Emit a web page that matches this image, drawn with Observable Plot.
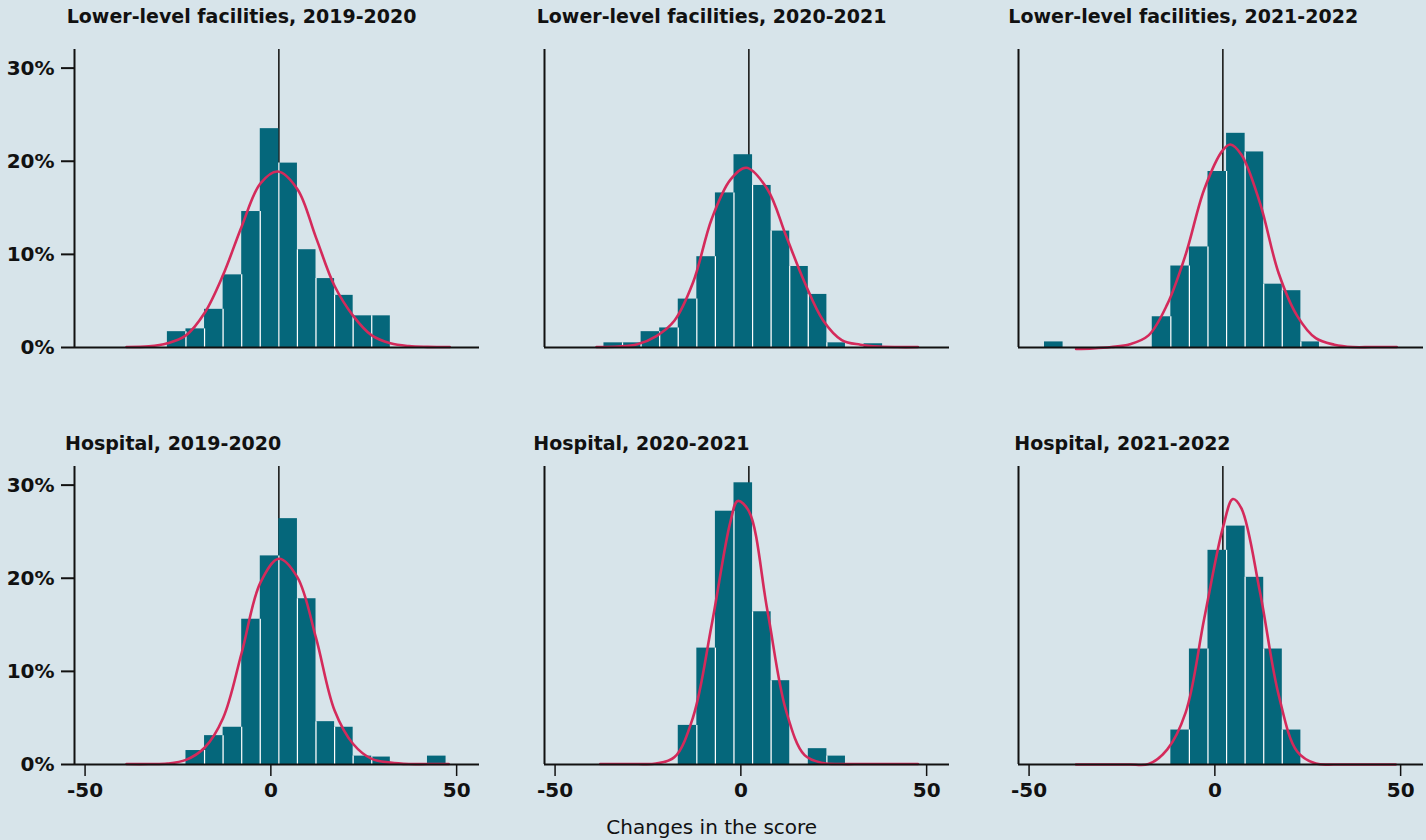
<!DOCTYPE html>
<html>
<head>
<meta charset="utf-8">
<script src="https://cdn.jsdelivr.net/npm/d3@7"></script>
<script src="https://cdn.jsdelivr.net/npm/@observablehq/plot@0.6"></script>
<style>
  html, body { margin: 0; padding: 0; background: #d7e4ea; }
  #root { position: relative; width: 1426px; height: 840px; background: #d7e4ea; overflow: hidden; font-family: "DejaVu Sans", sans-serif; color: #111; }
  .panel { position: absolute; }
  .title { position: absolute; font: bold 19px/19px "DejaVu Sans", sans-serif; color: #111; white-space: nowrap; }
  .xlabel { position: absolute; left: 0; width: 1426px; text-align: center; font: 20px/20px "DejaVu Sans", sans-serif; color: #111; }
</style>
</head>
<body>
<div id="root"></div>
<script>
// ---------- data ----------
const titles = [
  "Lower-level facilities, 2019-2020",
  "Lower-level facilities, 2020-2021",
  "Lower-level facilities, 2021-2022",
  "Hospital, 2019-2020",
  "Hospital, 2020-2021",
  "Hospital, 2021-2022"
];
const binWidth = 5;
const xTicks = [-50, 0, 50];
const yTicks = [0, 10, 20, 30];
const xLabel = "Changes in the score";

// Lower-level facilities, 2019-2020
const llBins1920 = [-30, -25, -20, -15, -10, -5, 0, 5, 10, 15, 20, 25];
const llPct1920  = [1.7, 2.0, 4.1, 7.8, 14.6, 23.5, 19.8, 10.5, 7.4, 5.6, 3.4, 3.4];
const llCurveX1920 = [-41, -35, -30, -25, -20, -15, -10, -5, -0.3, 5, 10, 15, 20, 25, 30, 35, 40, 46];
const llCurveY1920 = [0.05, 0.12, 0.45, 1.3, 3.7, 7.8, 13.0, 17.6, 18.9, 17.0, 11.8, 6.6, 3.4, 1.3, 0.45, 0.15, 0.07, 0.05];

// Lower-level facilities, 2020-2021
const llBins2021 = [-39, -34, -29, -24, -19, -14, -9, -4, 1, 6, 11, 16, 21, 31];
const llPct2021  = [0.5, 0.5, 1.7, 2.1, 5.2, 9.75, 16.6, 20.7, 17.4, 12.5, 8.7, 5.7, 0.5, 0.4];
const llCurveX2021 = [-41, -35, -30, -25, -20, -15, -10, -5, -0.7, 5, 10, 15, 20, 25, 30, 35, 40, 45.5];
const llCurveY2021 = [0.05, 0.1, 0.35, 1.2, 2.9, 7.0, 13.8, 18.0, 19.3, 17.0, 12.0, 7.0, 2.9, 0.8, 0.3, 0.1, 0.05, 0.05];

// Lower-level facilities, 2021-2022
const llBins2122 = [-48, -19, -14, -9, -4, 1, 6, 11, 16, 21];
const llPct2122  = [0.6, 3.3, 8.75, 10.8, 18.9, 23.0, 21.0, 6.8, 6.1, 0.6];
const llCurveX2122 = [-39.5, -35, -30, -25, -20, -15, -10, -5, 0, 2, 5, 10, 15, 20, 25, 30, 35, 40, 46.8];
const llCurveY2122 = [-0.15, -0.1, 0.05, 0.35, 1.3, 4.6, 10.0, 17.0, 21.2, 21.8, 20.7, 15.5, 8.0, 3.4, 1.0, 0.3, 0.05, 0.05, 0.05];

// Hospital, 2019-2020
const hBins1920 = [-25, -20, -15, -10, -5, 0, 5, 10, 15, 20, 25, 40];
const hPct1920  = [1.5, 3.1, 4.0, 15.6, 22.4, 26.4, 17.8, 4.6, 4.0, 0.9, 0.8, 0.9];
const hCurveX1920 = [-41, -35, -30, -25, -20, -15, -10, -5, 0, 5, 10, 15, 20, 25, 30, 35, 40, 45.7];
const hCurveY1920 = [0.05, 0.05, 0.1, 0.5, 1.8, 5.0, 12.0, 19.5, 22.1, 20.1, 13.6, 5.8, 2.2, 0.6, 0.2, 0.05, 0.05, 0.05];

// Hospital, 2020-2021
const hBins2021 = [-19, -14, -9, -4, 1, 6, 16, 21];
const hPct2021  = [4.2, 12.5, 27.2, 30.25, 16.4, 9.0, 1.7, 0.9];
const hCurveX2021 = [-40, -35, -30, -25, -20, -15, -10, -5, -3, 0, 5, 10, 15, 20, 25, 30, 35, 40, 45.5];
const hCurveY2021 = [0.05, 0.05, 0.05, 0.1, 0.8, 5.1, 15.0, 26.0, 28.3, 27.2, 16.5, 5.8, 1.0, 0.15, 0.05, 0.05, 0.05, 0.05, 0.05];

// Hospital, 2021-2022
const hBins2122 = [-14, -9, -4, 1, 6, 11, 16];
const hPct2122  = [3.7, 12.4, 23.0, 25.6, 20.1, 12.4, 3.7];
const hCurveX2122 = [-39.5, -35, -30, -25, -20, -15, -10, -5, 0, 2.7, 5, 10, 15, 20, 25, 30, 35, 40, 46.5];
const hCurveY2122 = [0, 0, 0, 0, 0.05, 1.6, 5.6, 15.7, 25.4, 28.5, 27.5, 18.5, 7.5, 1.4, 0.1, 0, 0, 0, 0];

// ---------- layout / style ----------
const COLORS = { bg: "#d7e4ea", bar: "#05677b", curve: "#d42a5b", ink: "#111111" };
const xDomain = [-55, 54];
const yDomain = [0, 32];
const W = 405, H = 298;
const colLeft = [74, 544, 1018];
const rowTop = [49, 466];
const titlePos = [
  [[66.7, 23.3], [536.7, 23.3], [1008.3, 23.3]],
  [[65, 450], [533.3, 450], [1014.3, 450]]
];

const panels = [
  { bins: llBins1920, pct: llPct1920, cx: llCurveX1920, cy: llCurveY1920 },
  { bins: llBins2021, pct: llPct2021, cx: llCurveX2021, cy: llCurveY2021 },
  { bins: llBins2122, pct: llPct2122, cx: llCurveX2122, cy: llCurveY2122 },
  { bins: hBins1920, pct: hPct1920, cx: hCurveX1920, cy: hCurveY1920 },
  { bins: hBins2021, pct: hPct2021, cx: hCurveX2021, cy: hCurveY2021 },
  { bins: hBins2122, pct: hPct2122, cx: hCurveX2122, cy: hCurveY2122 }
];

const root = document.getElementById("root");

panels.forEach((p, k) => {
  const row = Math.floor(k / 3), col = k % 3;
  const mL = 80, mR = 6, mT = 4, mB = row === 1 ? 60 : 6;

  const bars = p.bins.map((b, i) => ({ x1: b, x2: b + binWidth, y: p.pct[i] }));
  const seps = [];
  for (let i = 1; i < p.bins.length; i++) {
    if (Math.abs(p.bins[i] - p.bins[i - 1] - binWidth) < 1e-9) {
      seps.push({ x: p.bins[i], y: Math.min(p.pct[i], p.pct[i - 1]) });
    }
  }
  const curve = p.cx.map((x, i) => ({ x, y: p.cy[i] }));

  const marks = [
    Plot.ruleX([0], { stroke: "#1a1a1a", strokeWidth: 1.6 }),
    Plot.rect(bars, { x1: "x1", x2: "x2", y1: 0, y2: "y", fill: COLORS.bar }),
    Plot.ruleX(seps, { x: "x", y1: 0, y2: "y", stroke: "#ffffff", strokeWidth: 1.2 }),
    Plot.line(curve, { x: "x", y: "y", stroke: COLORS.curve, strokeWidth: 2.6, curve: "catmull-rom" }),
    Plot.ruleY([0], { stroke: COLORS.ink, strokeWidth: 2 }),
    Plot.ruleX([xDomain[0]], { stroke: COLORS.ink, strokeWidth: 2 })
  ];
  if (col === 0) {
    marks.push(Plot.axisY(yTicks, {
      label: null, tickSize: 13, tickPadding: 7, tickFormat: d => d + "%",
      fontSize: 20, fontWeight: "bold", strokeWidth: 2
    }));
  }
  if (row === 1) {
    marks.push(Plot.axisX(xTicks, {
      label: null, tickSize: 12, tickPadding: 6, tickFormat: d => String(d),
      fontSize: 20, fontWeight: "bold", strokeWidth: 1.5, dx: -8
    }));
  }

  const svg = Plot.plot({
    width: mL + W + mR,
    height: mT + H + mB,
    marginLeft: mL, marginRight: mR, marginTop: mT, marginBottom: mB,
    x: { domain: xDomain, axis: row === 1 ? undefined : null, label: null },
    y: { domain: yDomain, axis: col === 0 ? undefined : null, label: null },
    style: {
      background: "transparent", overflow: "visible",
      fontFamily: "DejaVu Sans, sans-serif", fontSize: "20px", color: COLORS.ink
    },
    marks
  });
  svg.classList.add("panel");
  svg.style.left = (colLeft[col] - mL) + "px";
  svg.style.top = (rowTop[row] - mT) + "px";
  root.appendChild(svg);

  const t = document.createElement("div");
  t.className = "title";
  t.textContent = titles[k];
  const [tx, tb] = titlePos[row][col];
  t.style.left = tx + "px";
  t.style.top = (tb - 16.1) + "px";
  root.appendChild(t);
});

const xl = document.createElement("div");
xl.className = "xlabel";
xl.textContent = xLabel;
xl.style.left = (711.7 - 713) + "px";
xl.style.top = (834 - 16.9) + "px";
root.appendChild(xl);
</script>
</body>
</html>
